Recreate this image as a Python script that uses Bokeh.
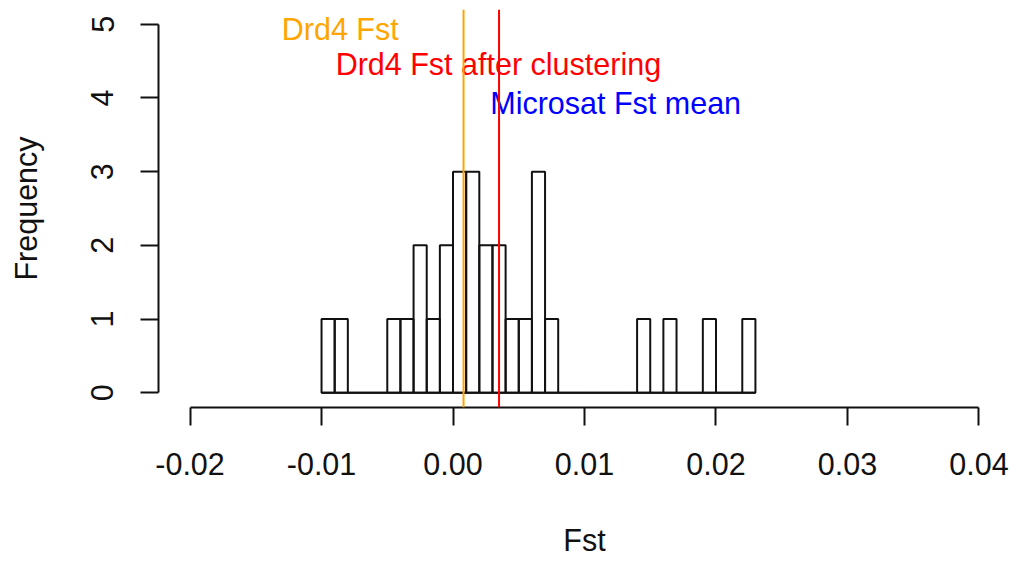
import numpy as np
from bokeh.plotting import figure
from bokeh.models import Range1d, FixedTicker, Span, ColumnDataSource
from bokeh.core.properties import value
from bokeh.embed import file_html
from bokeh.resources import INLINE

# ---- data ----
bin_edges = [-0.010, -0.009, -0.008, -0.007, -0.006, -0.005, -0.004, -0.003,
             -0.002, -0.001, 0.000, 0.001, 0.002, 0.003, 0.004, 0.005, 0.006,
             0.007, 0.008, 0.009, 0.010, 0.011, 0.012, 0.013, 0.014, 0.015,
             0.016, 0.017, 0.018, 0.019, 0.020, 0.021, 0.022, 0.023]
counts = [1, 1, 0, 0, 0, 1, 1, 2, 1, 2, 3, 3, 2, 2, 1, 1, 3, 1,
          0, 0, 0, 0, 0, 0, 1, 0, 1, 0, 0, 1, 0, 0, 1]

x_ticks = [-0.02, -0.01, 0.00, 0.01, 0.02, 0.03, 0.04]
x_tick_labels = ["-0.02", "-0.01", "0.00", "0.01", "0.02", "0.03", "0.04"]
y_ticks = [0, 1, 2, 3, 4, 5]
y_tick_labels = ["0", "1", "2", "3", "4", "5"]

vline_x = [0.0008, 0.0035]
vline_colors = ["#FFA500", "#FF0000"]

ann_text = ["Drd4 Fst", "Drd4 Fst after clustering", "Microsat Fst mean"]
ann_x = [-0.00858, 0.00345, 0.01237]
ann_y = [4.94, 4.46, 3.93]
ann_colors = ["#FFA500", "#FF0000", "#0000FF"]

x_label = "Fst"
y_label = "Frequency"

FONT = "Liberation Sans"
FS = "30.5px"

p = figure(width=1010, height=561,
           x_range=Range1d(-0.0224, 0.0424), y_range=Range1d(-0.2, 5.2),
           output_backend="svg", toolbar_location=None,
           min_border_left=158, min_border_right=0,
           min_border_top=9, min_border_bottom=154)
p.outline_line_color = None
p.xgrid.visible = False
p.ygrid.visible = False
p.background_fill_color = "white"
p.border_fill_color = "white"

for ax in (p.xaxis[0], p.yaxis[0]):
    ax.axis_line_width = 2
    ax.axis_line_color = "#111111"
    ax.major_tick_line_width = 2
    ax.major_tick_line_color = "#111111"
    ax.major_tick_out = 18
    ax.major_tick_in = 0
    ax.minor_tick_out = 0
    ax.minor_tick_in = 0
    ax.major_label_text_font = FONT
    ax.major_label_text_font_size = FS
    ax.major_label_text_color = "#111111"
    ax.major_label_standoff = 27
    ax.axis_label_text_font = FONT
    ax.axis_label_text_font_size = FS
    ax.axis_label_text_font_style = "normal"
    ax.axis_label_text_color = "#111111"

p.xaxis.axis_label = x_label
p.yaxis.axis_label = y_label
p.xaxis.axis_label_standoff = 45
p.yaxis.axis_label_standoff = 46

p.xaxis.bounds = (x_ticks[0], x_ticks[-1])
p.yaxis.bounds = (y_ticks[0], y_ticks[-1])
p.xaxis.ticker = FixedTicker(ticks=x_ticks)
p.yaxis.ticker = FixedTicker(ticks=y_ticks)
p.xaxis.major_label_overrides = {t: l for t, l in zip(x_ticks, x_tick_labels)}
p.yaxis.major_label_overrides = {t: l for t, l in zip(y_ticks, y_tick_labels)}
p.yaxis.major_label_orientation = "vertical"

src = ColumnDataSource(dict(left=bin_edges[:-1], right=bin_edges[1:],
                            top=counts, bottom=[0] * len(counts)))
p.quad(left="left", right="right", top="top", bottom="bottom", source=src,
       fill_color=None, line_color="#111111", line_width=2)
p.segment(x0=[bin_edges[0]], x1=[bin_edges[-1]], y0=[0], y1=[0],
          line_color="#111111", line_width=2)

for xv, c in zip(vline_x, vline_colors):
    p.add_layout(Span(location=xv, dimension="height", line_color=c, line_width=2))

tsrc = ColumnDataSource(dict(x=ann_x, y=ann_y, text=ann_text, color=ann_colors))
p.text(x="x", y="y", text="text", text_color="color", source=tsrc,
       text_font=value(FONT), text_font_size=FS,
       text_align="center", text_baseline="middle")

open("out.html", "w").write(file_html(p, INLINE))
